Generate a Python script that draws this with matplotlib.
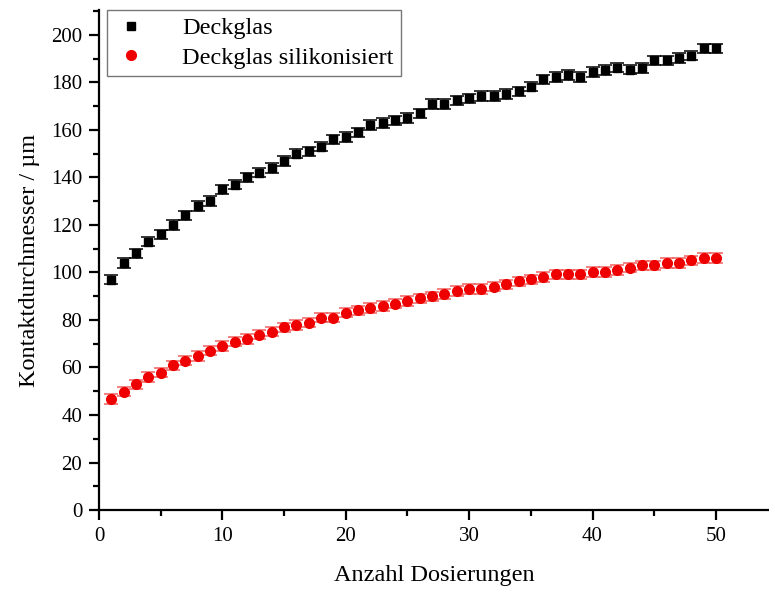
import numpy as np
import matplotlib
matplotlib.use("Agg")
import matplotlib.pyplot as plt
from matplotlib.ticker import MultipleLocator

plt.rcParams['font.family'] = ['Liberation Serif', 'DejaVu Serif']
plt.rcParams['mathtext.fontset'] = 'stix'

dosierungen = np.arange(1, 51)

deckglas = np.array([
    97, 104, 108, 113, 116, 120, 124, 128, 130, 135,
    137, 140, 142, 144, 147, 150, 151, 153, 156, 157,
    159, 162, 163, 164, 165, 167, 171, 171, 172.5, 173.3,
    174.3, 174.3, 175.2, 176.2, 178.2, 181.3, 182.3, 183.2, 182.2, 184.4,
    185.3, 186.2, 185.4, 186.1, 189.3, 189.3, 190.3, 191.3, 194.4, 194.4,
])
deckglas_err = np.full(50, 2.0)

silikonisiert = np.array([
    46.7, 49.8, 52.9, 56.0, 57.8, 60.9, 62.9, 64.8, 67.1, 69.1,
    70.9, 71.9, 73.8, 75.1, 76.9, 77.9, 78.9, 81.0, 81.0, 83.1,
    84.1, 85.1, 85.9, 86.9, 88.0, 89.1, 89.9, 90.9, 92.2, 93.1,
    93.1, 94.0, 95.0, 96.3, 97.1, 98.0, 99.2, 99.2, 99.2, 100.1,
    100.1, 101.1, 102.0, 103.0, 103.0, 104.0, 104.0, 105.1, 106.1, 106.1,
])
silikonisiert_err = np.full(50, 2.0)

fig = plt.figure(figsize=(7.69, 5.89), dpi=100)
ax = fig.add_axes([0.1287, 0.1341, 0.8713, 0.8489])

ax.errorbar(dosierungen, deckglas, yerr=deckglas_err, fmt='s', color='black',
            ecolor='black', elinewidth=1.0, capsize=5, capthick=1.1,
            markersize=5.5, label='Deckglas')
ax.errorbar(dosierungen, silikonisiert, yerr=silikonisiert_err, fmt='o', color='#ee0000',
            ecolor='#f06060', elinewidth=1.0, capsize=5, capthick=1.1,
            markersize=7, label='Deckglas silikonisiert')

ax.set_xlim(0, 54.3)
ax.set_ylim(0, 210.5)
ax.xaxis.set_major_locator(MultipleLocator(10))
ax.xaxis.set_minor_locator(MultipleLocator(5))
ax.yaxis.set_major_locator(MultipleLocator(20))
ax.yaxis.set_minor_locator(MultipleLocator(10))

for side in ['top', 'right']:
    ax.spines[side].set_visible(False)
for side in ['left', 'bottom']:
    ax.spines[side].set_linewidth(1.6)

ax.tick_params(which='major', direction='out', length=7, width=1.6, labelsize=15, pad=5)
ax.tick_params(which='minor', direction='out', length=4, width=1.6)

ax.set_xlabel('Anzahl Dosierungen', fontsize=17.5, labelpad=14)
ax.set_ylabel('Kontaktdurchmesser / µm', fontsize=17.5, labelpad=8)

# strip error bars from the legend handles, keep only the markers
handles, labels = ax.get_legend_handles_labels()
handles = [h[0] for h in handles]
leg = ax.legend(handles, labels, loc='upper left', bbox_to_anchor=(0.012, 1.0),
                fontsize=17.5, frameon=True, fancybox=False, edgecolor='#555555',
                handlelength=1.4, handletextpad=1.4, borderpad=0.3,
                labelspacing=0.3, borderaxespad=0)
leg.get_frame().set_linewidth(1.0)

fig.savefig('out.png', dpi=100)
